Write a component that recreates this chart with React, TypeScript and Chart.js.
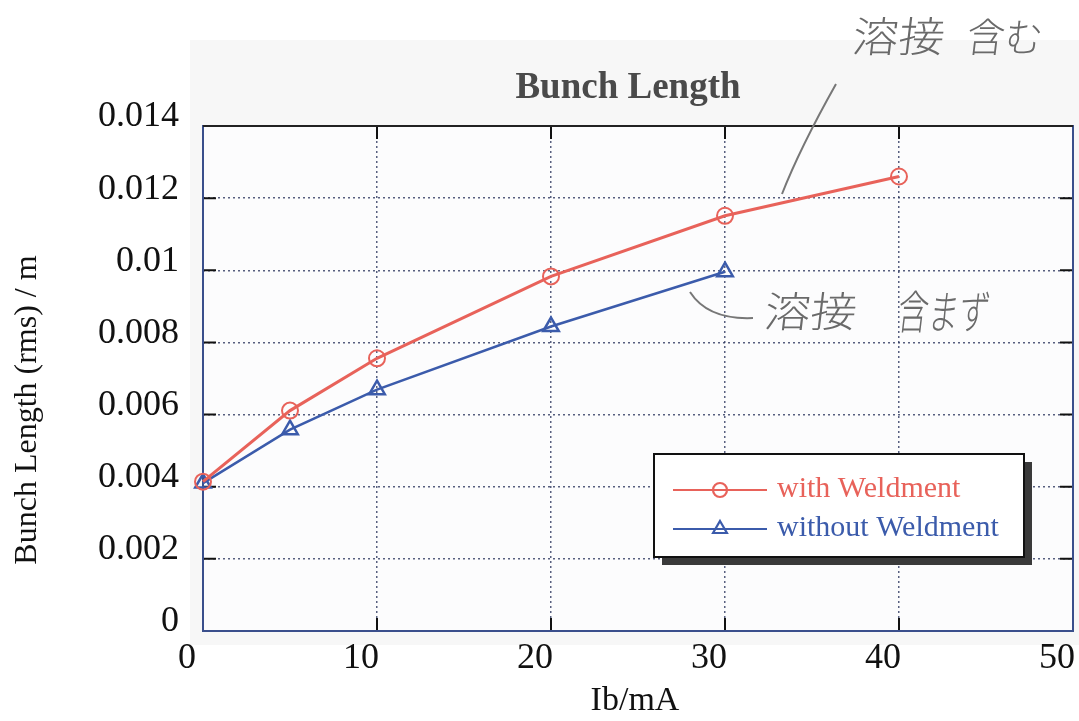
import { useEffect, useRef } from "react";
import { Chart, registerables } from "chart.js";

Chart.register(...registerables);

// Beam current (mA) and rms bunch length (m)
const currentWith = [0, 5, 10, 20, 30, 40];
const lengthWith = [0.00414, 0.00611, 0.00756, 0.00983, 0.01151, 0.0126];
const currentWithout = [0, 5, 10, 20, 30];
const lengthWithout = [0.0041, 0.00558, 0.00669, 0.00844, 0.00996];

const xTickLabels = ["0", "10", "20", "30", "40", "50"];
const yTickLabels = ["0", "0.002", "0.004", "0.006", "0.008", "0.01", "0.012", "0.014"];
const seriesLabels = ["with Weldment", "without Weldment"];
const chartTitle = "Bunch Length";
const xTitle = "Ib/mA";
const yTitle = "Bunch Length (rms) / m";
const noteWith = ["溶接", "含む"];
const noteWithout = ["溶接", "含まず"];

const RED = "#e8625a";
const BLUE = "#3b5bab";
const SERIF = "'Liberation Serif', 'Times New Roman', serif";
const HAND = "'Noto Sans CJK JP', sans-serif";

function drawMarker(ctx: CanvasRenderingContext2D, kind: string, x: number, y: number, r: number, color: string) {
  ctx.save();
  ctx.strokeStyle = color;
  ctx.lineWidth = 2.2;
  ctx.beginPath();
  if (kind === "circle") {
    ctx.arc(x, y, r, 0, Math.PI * 2);
  } else {
    for (let k = 0; k < 3; k++) {
      const a = -Math.PI / 2 + (k * 2 * Math.PI) / 3;
      const px = x + r * Math.cos(a);
      const py = y + r * Math.sin(a);
      if (k === 0) ctx.moveTo(px, py);
      else ctx.lineTo(px, py);
    }
    ctx.closePath();
  }
  ctx.stroke();
  ctx.restore();
}

// Hand-written style note, squeezed or stretched to a given width
function handText(ctx: CanvasRenderingContext2D, text: string, x: number, y: number, size: number, width: number) {
  ctx.save();
  ctx.font = `300 ${size}px ${HAND}`;
  ctx.fillStyle = "#6a6a6a";
  ctx.textBaseline = "middle";
  ctx.textAlign = "left";
  const w = ctx.measureText(text).width;
  ctx.translate(x, y);
  ctx.transform(width / w, 0, -0.12, 1, 0, 0);
  ctx.fillText(text, 0, 0);
  ctx.restore();
}

const decorPlugin = {
  id: "decor",
  beforeDraw(chart: any) {
    const { ctx, chartArea: a } = chart;
    ctx.save();
    ctx.fillStyle = "#ffffff";
    ctx.fillRect(0, 0, chart.width, chart.height);
    ctx.fillStyle = "#f7f7f7";
    ctx.fillRect(190, 40, chart.width - 190, 605);
    ctx.fillStyle = "#fcfcfd";
    ctx.fillRect(a.left, a.top, a.right - a.left, a.bottom - a.top);
    ctx.restore();
  },
  beforeDatasetsDraw(chart: any) {
    const { ctx, chartArea: a, scales } = chart;
    ctx.save();
    // inward tick marks
    ctx.strokeStyle = "#111";
    ctx.lineWidth = 2;
    const tl = 13;
    scales.y.ticks.forEach((t: any) => {
      const py = scales.y.getPixelForValue(t.value);
      ctx.beginPath();
      ctx.moveTo(a.left, py);
      ctx.lineTo(a.left + tl, py);
      ctx.moveTo(a.right, py);
      ctx.lineTo(a.right - tl, py);
      ctx.stroke();
    });
    scales.x.ticks.forEach((t: any) => {
      const px = scales.x.getPixelForValue(t.value);
      ctx.beginPath();
      ctx.moveTo(px, a.top);
      ctx.lineTo(px, a.top + tl);
      ctx.moveTo(px, a.bottom);
      ctx.lineTo(px, a.bottom - tl);
      ctx.stroke();
    });
    // frame
    ctx.strokeStyle = "#3a4f8c";
    ctx.lineWidth = 2;
    ctx.strokeRect(a.left, a.top, a.right - a.left, a.bottom - a.top);
    ctx.strokeStyle = "#222";
    ctx.beginPath();
    ctx.moveTo(a.left, a.top);
    ctx.lineTo(a.right, a.top);
    ctx.stroke();
    ctx.restore();
  },
  afterDraw(chart: any) {
    const { ctx, scales } = chart;
    ctx.save();
    // x tick labels (set slightly left of their ticks)
    ctx.font = `36px ${SERIF}`;
    ctx.fillStyle = "#111";
    ctx.textAlign = "center";
    ctx.textBaseline = "middle";
    scales.x.ticks.forEach((t: any, i: number) => {
      ctx.fillText(xTickLabels[i], scales.x.getPixelForValue(t.value) - 16, 659);
    });

    // title
    ctx.font = `bold 37px ${SERIF}`;
    ctx.fillStyle = "#4a4a4a";
    ctx.fillText(chartTitle, 628, 88);

    // x-axis title
    ctx.font = `34px ${SERIF}`;
    ctx.fillStyle = "#111";
    ctx.fillText(xTitle, 635, 701);

    // y-axis title
    ctx.save();
    ctx.translate(28, 410);
    ctx.rotate(-Math.PI / 2);
    ctx.font = `32px ${SERIF}`;
    ctx.fillStyle = "#111";
    ctx.fillText(yTitle, 0, 0);
    ctx.restore();

    // legend box with drop shadow
    const bx = 654, by = 454, bw = 370, bh = 103;
    ctx.fillStyle = "#3a3a3a";
    ctx.fillRect(bx + 8, by + 8, bw, bh);
    ctx.fillStyle = "#ffffff";
    ctx.fillRect(bx, by, bw, bh);
    ctx.strokeStyle = "#111";
    ctx.lineWidth = 2;
    ctx.strokeRect(bx, by, bw, bh);

    const ds = chart.data.datasets;
    const rows = [490, 529];
    ds.forEach((d: any, i: number) => {
      const y = rows[i];
      ctx.strokeStyle = d.borderColor;
      ctx.lineWidth = 2;
      ctx.beginPath();
      ctx.moveTo(673, y);
      ctx.lineTo(767, y);
      ctx.stroke();
      drawMarker(ctx, d.pointStyle, 720, y, d.pointStyle === "circle" ? 7 : 8, d.borderColor);
      ctx.font = `30px ${SERIF}`;
      ctx.fillStyle = d.borderColor;
      ctx.textAlign = "left";
      ctx.textBaseline = "middle";
      ctx.fillText(d.label, 777, y - 1);
    });

    // hand-written notes with leader lines
    ctx.strokeStyle = "#777";
    ctx.lineWidth = 2;
    ctx.beginPath();
    ctx.moveTo(836, 84);
    ctx.quadraticCurveTo(800, 148, 782, 194);
    ctx.stroke();
    ctx.beginPath();
    ctx.moveTo(690, 292);
    ctx.quadraticCurveTo(708, 320, 753, 318);
    ctx.stroke();
    ctx.restore();

    handText(ctx, noteWith[0], 853, 36, 42, 92);
    handText(ctx, noteWith[1], 967, 37, 40, 76);
    handText(ctx, noteWithout[0], 765, 311, 42, 92);
    handText(ctx, noteWithout[1], 898, 312, 46, 92);
  },
};

export default function App() {
  const ref = useRef<HTMLCanvasElement | null>(null);

  useEffect(() => {
    document.body.style.margin = "0";
    const canvas = ref.current;
    if (!canvas) return;
    const chart = new Chart(canvas, {
      type: "line",
      data: {
        datasets: [
          {
            label: seriesLabels[0],
            data: currentWith.map((x, i) => ({ x, y: lengthWith[i] })),
            borderColor: RED,
            backgroundColor: "rgba(255,255,255,0)",
            borderWidth: 3,
            pointStyle: "circle",
            pointRadius: 8,
            pointBorderWidth: 2,
            pointBackgroundColor: "rgba(255,255,255,0)",
            pointBorderColor: RED,
            tension: 0,
            clip: false,
          },
          {
            label: seriesLabels[1],
            data: currentWithout.map((x, i) => ({ x, y: lengthWithout[i] })),
            borderColor: BLUE,
            backgroundColor: "rgba(255,255,255,0)",
            borderWidth: 2.5,
            pointStyle: "triangle",
            pointRadius: 9,
            pointBorderWidth: 2.5,
            pointBackgroundColor: "rgba(255,255,255,0)",
            pointBorderColor: BLUE,
            tension: 0,
            clip: false,
          },
        ],
      },
      options: {
        responsive: false,
        animation: false,
        devicePixelRatio: 1,
        layout: { autoPadding: false, padding: { top: 126, right: 6, left: 0, bottom: 0 } },
        plugins: {
          legend: { display: false },
          title: { display: false },
          tooltip: { enabled: false },
        },
        scales: {
          x: {
            type: "linear",
            min: 0,
            max: 50,
            afterFit: (s: any) => {
              s.height = 90;
              s.paddingLeft = 0;
              s.paddingRight = 0;
            },
            grid: {
              color: "rgba(45,55,95,0.8)",
              lineWidth: 1.5,
              drawTicks: false,
            },
            border: { display: false, dash: [2, 3] },
            ticks: { display: false, stepSize: 10 },
            title: { display: false },
          },
          y: {
            type: "linear",
            min: 0,
            max: 0.014,
            afterFit: (s: any) => {
              s.width = 203;
            },
            grid: {
              color: "rgba(45,55,95,0.8)",
              lineWidth: 1.5,
              drawTicks: false,
            },
            border: { display: false, dash: [2, 3] },
            ticks: {
              stepSize: 0.002,
              padding: 24,
              labelOffset: -9,
              color: "#111",
              font: { family: SERIF, size: 36 },
              callback: (_v: any, i: number) => yTickLabels[i],
            },
            title: { display: false },
          },
        },
      },
      plugins: [decorPlugin],
    });
    return () => chart.destroy();
  }, []);

  return (
    <div style={{ width: 1079, height: 721 }}>
      <canvas ref={ref} width={1079} height={721} />
    </div>
  );
}
